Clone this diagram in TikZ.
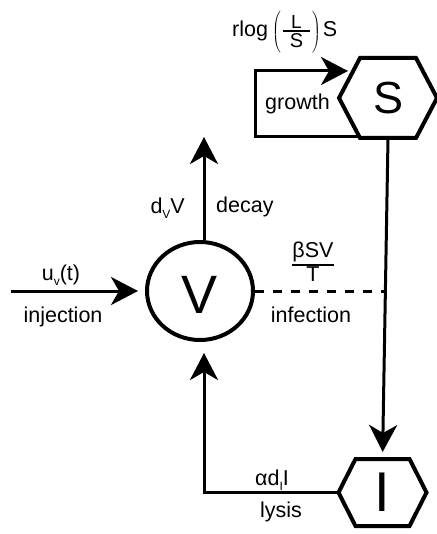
\documentclass[tikz,border=0pt]{standalone}
\usepackage{fontspec}
\setmainfont{Liberation Sans}
\usetikzlibrary{arrows.meta,shapes.geometric,calc}
\newcommand\sub[1]{\raisebox{-5pt}{\fontsize{12}{12}\selectfont #1}}
\newcommand\myfr[3]{\ensuremath{\vcenter{\halign{\hfil\kern#1##\kern#1\hfil\cr #2\cr\noalign{\kern1.5pt\hrule height 1.8pt\kern1.5pt}#3\cr}}}}
\newcommand\tallstrut{\vcenter{\hbox{\vrule height 21pt depth 21pt width 0pt}}}
\begin{document}
\begin{tikzpicture}[x=1pt,y=-1pt,
  conn/.style={line width=3pt},
  arr/.style={conn,-{Stealth[length=27pt,width=28pt,inset=8pt]}},
  lab/.style={font=\fontsize{21.5}{24}\selectfont, inner sep=0pt},
  hexline/.style={line width=4pt, line join=miter},
  hexbox/.style={inner sep=0pt, outer sep=0pt},
  ]
\useasboundingbox (0,0) rectangle (436,534);

% nodes
\node[ellipse, draw, line width=4pt, minimum width=106pt, minimum height=98pt,
      inner sep=0pt, font=\fontsize{54}{54}\selectfont, text height=45.7pt, text depth=0pt] (V) at (200,291) {V};
\node[hexbox, minimum width=98pt, minimum height=80pt, font=\fontsize{45}{45}\selectfont] (S) at (388,98) {S};
\node[hexbox, minimum width=88pt, minimum height=67pt, font=\fontsize{56}{56}\selectfont] (I) at (382.5,492.5) {I};

% hexagons
\draw[hexline] (S.west) -- ($(S.north)+(-28,0)$) -- ($(S.north)+(28,0)$) -- (S.east)
  -- ($(S.south)+(28,0)$) -- ($(S.south)+(-28,0)$) -- cycle;
\draw[hexline] (I.west) -- ($(I.north)+(-27,0)$) -- ($(I.north)+(27,0)$) -- (I.east)
  -- ($(I.south)+(27,0)$) -- ($(I.south)+(-27,0)$) -- cycle;

% coordinates
\coordinate (inj) at (11,291);
\coordinate (dt) at (204,137);
\coordinate (ij) at (385,291);
\coordinate (lc) at (204,493);
\coordinate (gs) at ($(S.south)+(-28,-1)$);
\coordinate (gc) at (255,71);
\coordinate (gt) at (348,71);

% connectors
\draw[arr, shorten >=7pt] (inj) -- (V.west);
\draw[arr] (V.north -| dt) -- (dt);
\draw[conn, dash pattern=on 9pt off 9pt] (V.east) -- (ij);
\draw[arr] (gs) -- (gs -| gc) -- (gc) -- (gt);
\draw[arr, shorten >=7pt] (S.south) -- (I.north);
\draw[arr, shorten >=11pt] (I.west) -- (I.west -| lc) -- (lc |- V.south);

% labels
\node[lab, anchor=base west] (Lg) at (232,37) {rlog\kern4pt$\left(\tallstrut\kern2pt\myfr{7pt}{\fontsize{19}{19}\selectfont L}{\fontsize{20}{20}\selectfont S}\kern2pt\right)$\kern2pt S};
\node[lab, anchor=base west] (Lgr) at (265,110) {growth};
\node[lab, anchor=base east] (Ld) at (185,214) {d\sub{V}V};
\node[lab, anchor=base west] (Lde) at (216,213) {decay};
\node[lab, anchor=base] (Lu) at (61,280) {u\sub{v}(t)};
\node[lab, anchor=base] (Linj) at (63,322) {injection};
\node[lab] (Lb) at (313,262) {\myfr{0pt}{βSV}{T}};
\node[lab, anchor=base] (Linf) at (311,322) {infection};
\node[lab, anchor=base west] (La) at (255,485) {αd\sub{I}I};
\node[lab, anchor=base] (Ll) at (281,517) {lysis};
\end{tikzpicture}
\end{document}
